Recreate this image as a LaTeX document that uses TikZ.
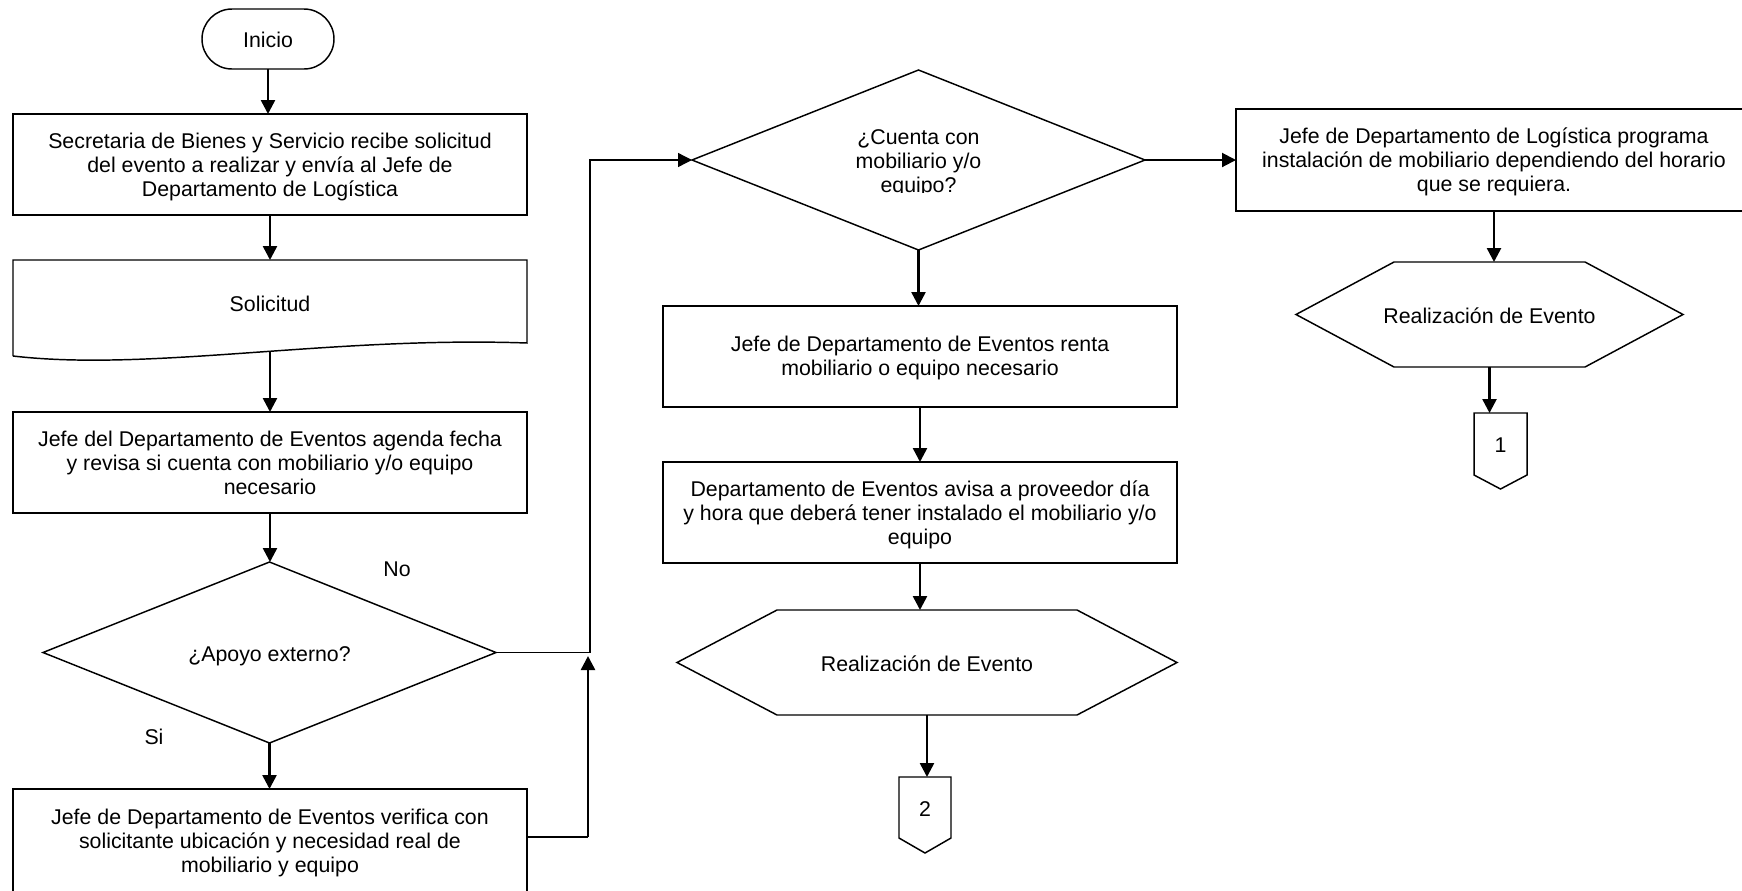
\documentclass[tikz,border=0pt]{standalone}
\usepackage{fontspec}
\setmainfont{Liberation Sans}
\usetikzlibrary{arrows.meta,calc}
\begin{document}
\begin{tikzpicture}[x=0.75pt,y=-0.75pt,
  every node/.style={font=\fontsize{16pt}{18pt}\selectfont, inner sep=0pt, outer sep=0pt, align=center,
    execute at begin node={\rule{0pt}{17pt}}, execute at end node={\rule[-4pt]{0pt}{4pt}}},
  threelines/.style={text height=51.5pt, text depth=4pt},
  twolines/.style={text height=32pt, text depth=4pt},
  sz/.style 2 args={minimum width=#1*0.75pt, minimum height=#2*0.75pt},
  procbox/.style={draw, line width=1.1pt},
  term/.style={draw, line width=1.1pt, rounded corners=22.5pt},
  outline/.style={line width=1.1pt, line join=miter},
  arr/.style={line width=1.9pt, -{Triangle[width=10.5pt,length=10.5pt]}},
  arrthin/.style={line width=1.5pt, -{Triangle[width=10.5pt,length=10.5pt]}},
  thinline/.style={line width=1pt}
]
\useasboundingbox (0,0) rectangle (1742,890);

% ---------- left column ----------
\node[term, sz={132}{60}] (start) at (268,39) {Inicio};
\node[procbox, threelines, sz={514}{101}] (box1) at (270,164.5)
  {Secretaria de Bienes y Servicio recibe solicitud\\del evento a realizar y envía al Jefe de\\Departamento de Logística};
\node[sz={514}{86}] (doc) at (270,303) {Solicitud};
\draw[outline] ($(doc.south west)+(0,10)$) -- (doc.north west) -- (doc.north east)
  -- ($(doc.south east)+(0,-3)$)
  .. controls ($(doc.south)+(60,-10)$) and ($(doc.south)+(-120,26)$) .. ($(doc.south west)+(0,10)$);
\coordinate (docout) at ($(doc.south)+(0,5)$);
\node[procbox, threelines, sz={514}{101}] (box3) at (270,462.5)
  {Jefe del Departamento de Eventos agenda fecha\\y revisa si cuenta con mobiliario y/o equipo\\necesario};
\node[sz={453}{181}] (apoyo) at (269.5,652.5) {¿Apoyo externo?};
\draw[outline] (apoyo.north) -- (apoyo.east) -- (apoyo.south) -- (apoyo.west) -- cycle;
\node[procbox, threelines, sz={514}{104}] (box5) at (270,841)
  {Jefe de Departamento de Eventos verifica con\\solicitante ubicación y necesidad real de\\mobiliario y equipo};
\node (no) at (397,568) {No};
\node (si) at (154,736) {Si};

% ---------- middle column ----------
\node[sz={453}{180}] (cuenta) at (918.5,160) {};
\draw[outline] (cuenta.north) -- (cuenta.east) -- (cuenta.south) -- (cuenta.west) -- cycle;
\begin{scope}
  \clip (700,90) rectangle (1140,192.5);
  \node[threelines] (cuentatxt) at (918.5,160.5) {¿Cuenta con\\mobiliario y/o\\equipo?};
\end{scope}
\node[procbox, twolines, sz={514}{101}] (renta) at (920,356.5)
  {Jefe de Departamento de Eventos renta\\mobiliario o equipo necesario};
\node[procbox, threelines, sz={514}{101}] (avisa) at (920,512.5)
  {Departamento de Eventos avisa a proveedor día\\y hora que deberá tener instalado el mobiliario y/o\\equipo};
\node[sz={500}{105}] (hexb) at (927,662.5) {Realización de Evento};
\draw[outline] ($(hexb.north west)+(100,0)$) -- ($(hexb.north east)+(-100,0)$) -- (hexb.east)
  -- ($(hexb.south east)+(-100,0)$) -- ($(hexb.south west)+(100,0)$) -- (hexb.west) -- cycle;
\node[sz={52}{61}] (cb) at (925,807.5) {2};
\draw[outline] (cb.north west) -- (cb.north east) -- (cb.south east) -- ($(cb.south)+(0,15)$) -- (cb.south west) -- cycle;

% ---------- right column ----------
\node[procbox, threelines, sz={516}{102}] (logi) at (1494,160)
  {Jefe de Departamento de Logística programa\\instalación de mobiliario dependiendo del horario\\que se requiera.};
\node[sz={387}{105}] (hexa) at (1489.5,314.5) {Realización de Evento};
\draw[outline] ($(hexa.north west)+(98,0)$) -- ($(hexa.north east)+(-98,0)$) -- (hexa.east)
  -- ($(hexa.south east)+(-98,0)$) -- ($(hexa.south west)+(98,0)$) -- (hexa.west) -- cycle;
\node[sz={53}{62}] (ca) at (1500.5,444) {1};
\draw[outline] (ca.north west) -- (ca.north east) -- (ca.south east) -- ($(ca.south)+(0,14)$) -- (ca.south west) -- cycle;

% ---------- connectors ----------
\draw[arr] (start.south) -- (start.south |- box1.north);
\draw[arr] (box1.south) -- (box1.south |- doc.north);
\draw[arr] (docout) -- (docout |- box3.north);
\draw[arr] (box3.south) -- (box3.south |- apoyo.north);
\draw[arr] (apoyo.south) -- (apoyo.south |- box5.north);
\coordinate (j1) at (590,652.5);
\draw[thinline, -{Triangle[width=10.5pt,length=10.5pt]}] (apoyo.east) -- (j1) |- (cuenta.west);
\coordinate (j2) at (588,837);
\coordinate (j3) at (588,656);
\draw[thinline] (box5.east |- j2) -- (j2);
\draw[arr] (j2) -- (j3);
\draw[arr] (cuenta.south) -- (cuenta.south |- renta.north);
\draw[arr] (renta.south) -- (renta.south |- avisa.north);
\draw[arr] (avisa.south) -- (avisa.south |- hexb.north);
\draw[arr] (hexb.south) -- (hexb.south |- cb.north);
\draw[arrthin] (cuenta.east) -- (logi.west);
\draw[arr] (logi.south) -- (logi.south |- hexa.north);
\draw[arr] (hexa.south) -- (hexa.south |- ca.north);
\end{tikzpicture}
\end{document}
